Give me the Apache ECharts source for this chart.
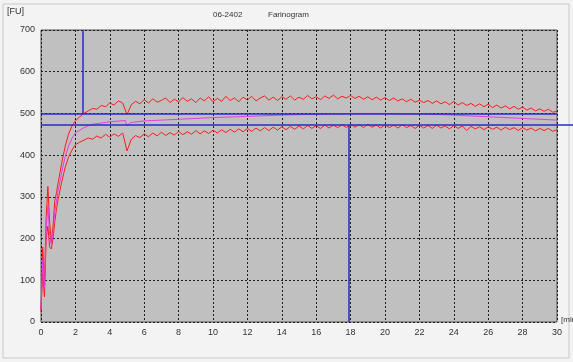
<!DOCTYPE html>
<html><head><meta charset="utf-8">
<script src="https://cdn.jsdelivr.net/npm/echarts@6/dist/echarts.min.js"></script>
<style>html,body{margin:0;padding:0;background:#f3f3f3}#c{width:573px;height:362px}</style>
</head><body><div id="c"></div>
<script>
const titleText = "06-2402";
const chartName = "Farinogram";
const yUnit = "[FU]";
const xUnit = "[min]";
const time = [0,0.1,0.2,0.3,0.4,0.5,0.6,0.7,0.8,0.9,1.0,1.2,1.4,1.6,1.8,2.0,
2.25,2.5,2.75,3,3.25,3.5,3.75,4,4.25,4.5,4.75,5,5.25,5.5,5.75,6,6.25,6.5,6.75,7,7.25,7.5,7.75,8,
8.25,8.5,8.75,9,9.25,9.5,9.75,10,10.25,10.5,10.75,11,11.25,11.5,11.75,12,12.25,12.5,12.75,13,
13.25,13.5,13.75,14,14.25,14.5,14.75,15,15.25,15.5,15.75,16,16.25,16.5,16.75,17,17.25,17.5,17.75,18,
18.25,18.5,18.75,19,19.25,19.5,19.75,20,20.25,20.5,20.75,21,21.25,21.5,21.75,22,22.25,22.5,22.75,23,
23.25,23.5,23.75,24,24.25,24.5,24.75,25,25.25,25.5,25.75,26,26.25,26.5,26.75,27,27.25,27.5,27.75,28,
28.25,28.5,28.75,29,29.25,29.5,29.75,30];
const upper = [30,180,90,250,325,240,190,230,290,310,335,380,420,450,470,482,
492,500,506,512,510,519,516,525,520,530,525,497,521,529,523,533,525,535,527,531,537,526,534,528,
538,529,535,526,537,530,540,528,536,529,541,531,537,528,539,532,541,530,537,542,
532,539,531,540,534,542,532,539,534,543,535,540,533,542,536,544,535,541,537,543,
536,541,534,540,533,539,532,538,531,537,530,535,528,534,527,532,526,531,524,530,
523,528,521,529,520,526,519,524,517,523,516,522,514,520,513,518,511,517,510,515,
508,513,506,511,505,510,503,505];
const lower = [25,120,60,200,230,180,175,200,240,270,295,335,370,395,412,425,
431,436,441,438,446,441,450,443,451,445,453,410,438,447,442,451,444,453,446,455,447,454,448,457,
449,456,450,459,451,458,452,460,453,461,454,462,455,463,456,464,457,465,458,466,
459,467,460,468,461,469,462,470,463,471,464,471,464,472,465,472,466,473,466,474,
467,473,466,474,467,472,465,473,466,472,465,473,466,471,464,472,465,471,464,472,
465,470,463,471,464,470,459,469,463,468,461,468,462,467,460,467,461,466,459,466,
460,465,458,464,459,464,457,461];
const meanTime = [0,0.1,0.2,0.3,0.4,0.5,0.6,0.7,0.8,0.9,1.0,1.2,1.4,1.6,1.8,2.0,2.5,3,4,4.9,5.0,5.2,6,8,10,12,14,16,18,20,22,24,26,28,30];
const meanValue = [30,150,80,220,280,210,185,215,265,290,315,358,395,422,440,453,466,474,480,483,470,478,482,486,490,493,496,498,500,500,499,496,492,488,484];
const markH1 = 500, markH2 = 472, markV1 = 2.45, markV2 = 17.9;

const pair = (xs, ys) => xs.map((x, i) => [x, ys[i]]);
const chart = echarts.init(document.getElementById('c'), null, {renderer: 'canvas'});
const font = "'Liberation Sans', Arial, sans-serif";
const blue = '#2a2ad0';
chart.setOption({
  animation: false,
  backgroundColor: '#f3f3f3',
  grid: {left: 41, right: 16, top: 30, bottom: 40, show: true, backgroundColor: '#c0c0c0', borderColor: '#505050', borderWidth: 1},
  xAxis: {type: 'value', min: 0, max: 30, interval: 2,
    axisLine: {show: false}, axisTick: {show: false},
    axisLabel: {color: '#333', fontFamily: font, fontSize: 9, margin: 6},
    splitLine: {show: true, lineStyle: {color: '#202020', type: [2, 2], width: 1}}},
  yAxis: {type: 'value', min: 0, max: 700, interval: 100,
    axisLine: {show: false}, axisTick: {show: false},
    axisLabel: {color: '#333', fontFamily: font, fontSize: 9, margin: 6},
    splitLine: {show: true, lineStyle: {color: '#202020', type: [2, 2], width: 1}}},
  graphic: [
    {type: 'rect', shape: {x: 3, y: 4, width: 566, height: 354}, style: {fill: 'none', stroke: '#c8c8c8', lineWidth: 1}, silent: true, z: -1},
    {type: 'text', left: 7, top: 7, style: {text: yUnit, fontFamily: font, fontSize: 9, fill: '#333'}},
    {type: 'text', left: 213, top: 11, style: {text: titleText, fontFamily: font, fontSize: 8, fill: '#333'}},
    {type: 'text', left: 268, top: 11, style: {text: chartName, fontFamily: font, fontSize: 8, fill: '#333'}},
    {type: 'text', left: 561, top: 316, style: {text: xUnit, fontFamily: font, fontSize: 8, fill: '#333'}}
  ],
  series: [
    {type: 'line', data: pair(time, lower), showSymbol: false, lineStyle: {color: '#ff1a1a', width: 1}, z: 3},
    {type: 'line', data: pair(time, upper), showSymbol: false, lineStyle: {color: '#ff1a1a', width: 1}, z: 3},
    {type: 'line', data: pair(meanTime, meanValue), showSymbol: false, lineStyle: {color: '#e63ce6', width: 1}, z: 4,
      markLine: {silent: true, symbol: 'none', label: {show: false}, lineStyle: {color: blue, width: 1.5, type: 'solid'},
        data: [
          [{coord: [0, markH1]}, {coord: [30, markH1]}],
          [{coord: [markV1, 700]}, {coord: [markV1, markH1]}],
          [{coord: [markV2, markH2]}, {coord: [markV2, 0]}]
        ]}}
  ]
});
// horizontal reference line that runs past the plot to the window edge
const p0 = chart.convertToPixel({gridIndex: 0}, [0, markH2]);
chart.setOption({graphic: [
  {type: 'rect', shape: {x: 3, y: 4, width: 566, height: 354}, style: {fill: 'none', stroke: '#c8c8c8', lineWidth: 1}, silent: true, z: -1},
  {type: 'text', left: 7, top: 7, style: {text: yUnit, fontFamily: font, fontSize: 9, fill: '#333'}},
  {type: 'text', left: 213, top: 11, style: {text: titleText, fontFamily: font, fontSize: 8, fill: '#333'}},
  {type: 'text', left: 268, top: 11, style: {text: chartName, fontFamily: font, fontSize: 8, fill: '#333'}},
  {type: 'text', left: 561, top: 316, style: {text: xUnit, fontFamily: font, fontSize: 8, fill: '#333'}},
  {type: 'line', shape: {x1: p0[0], y1: p0[1], x2: chart.getWidth(), y2: p0[1]}, style: {stroke: blue, lineWidth: 1.5}, z: 10, silent: true}
]});
</script></body></html>
